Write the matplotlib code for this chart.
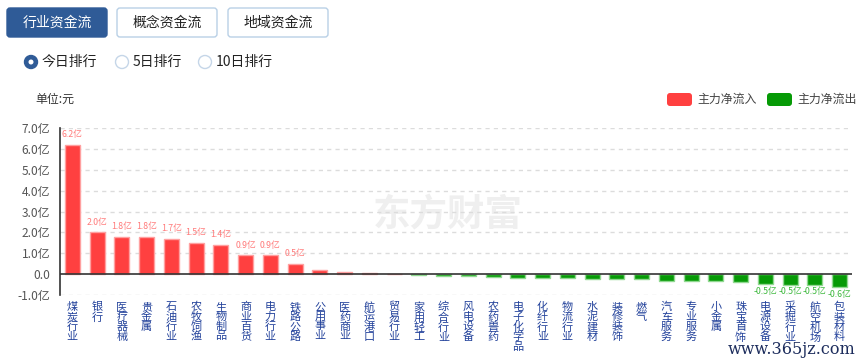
import matplotlib
matplotlib.use("Agg")
import matplotlib.pyplot as plt
from matplotlib.patches import FancyBboxPatch, Circle

plt.rcParams["font.family"] = ["Noto Sans CJK SC", "DejaVu Sans"]

# --- data (亿元) ------------------------------------------------------------
industries = [
    "煤炭行业", "银行", "医疗器械", "贵金属", "石油行业", "农牧饲渔", "生物制品",
    "商业百货", "电力行业", "铁路公路", "公用事业", "医药商业", "航运港口",
    "贸易行业", "家用轻工", "综合行业", "风电设备", "农药兽药", "电子化学品",
    "化纤行业", "物流行业", "水泥建材", "装修装饰", "燃气", "汽车服务",
    "专业服务", "小金属", "珠宝首饰", "电源设备", "采掘行业", "航空机场", "包装材料",
]
net_flow = [
    6.2, 2.0, 1.8, 1.8, 1.7, 1.5, 1.4, 0.9, 0.9, 0.5, 0.22, 0.11, 0.04,
    0.01, -0.04, -0.09, -0.1, -0.16, -0.17, -0.17, -0.17, -0.22, -0.25,
    -0.25, -0.32, -0.33, -0.33, -0.4, -0.49, -0.5, -0.5, -0.64,
]
flow_labels = ["6.2亿", "2.0亿", "1.8亿", "1.8亿", "1.7亿", "1.5亿", "1.4亿",
               "0.9亿", "0.9亿", "0.5亿"] + [""] * 18 + ["-0.5亿", "-0.5亿",
               "-0.5亿", "-0.6亿"]
y_ticks = [-1, 0, 1, 2, 3, 4, 5, 6, 7]
y_tick_labels = ["-1.0亿", "0.0", "1.0亿", "2.0亿", "3.0亿", "4.0亿", "5.0亿",
                 "6.0亿", "7.0亿"]
tabs = ["行业资金流", "概念资金流", "地域资金流"]
ranges = ["今日排行", "5日排行", "10日排行"]
legend_names = ["主力净流入", "主力净流出"]

RED, RED_EDGE, RED_TXT = "#ff4040", "#ffa0a0", "#ff7a7a"
GREEN, GREEN_EDGE, GREEN_TXT = "#069a06", "#90d890", "#3cb83c"
W, H = 862, 364

fig = plt.figure(figsize=(W / 100, H / 100), dpi=100)

# overlay in pixel coordinates for the page chrome
bg = fig.add_axes([0, 0, 1, 1])
bg.set_xlim(0, W)
bg.set_ylim(H, 0)
bg.axis("off")

tab_x = [7, 117, 228]
for i, (name, x0) in enumerate(zip(tabs, tab_x)):
    active = i == 0
    bg.add_patch(FancyBboxPatch(
        (x0, 8), 100, 29, boxstyle="round,pad=0,rounding_size=3",
        fc="#2f5b97" if active else "white",
        ec="#2f5b97" if active else "#b9d0e6", lw=1))
    bg.text(x0 + 50, 23, name, ha="center", va="center", fontsize=10,
            color="white" if active else "#222222")

radio_x = [31, 122, 205]
for i, (name, cx) in enumerate(zip(ranges, radio_x)):
    if i == 0:
        bg.add_patch(Circle((cx, 62), 6.5, fc="#2f5b97", ec="#2f5b97"))
        bg.add_patch(Circle((cx, 62), 2.5, fc="white", ec="none"))
    else:
        bg.add_patch(Circle((cx, 62), 6.5, fc="white", ec="#c5d6e8", lw=1))
    bg.text(cx + 11, 62, name, ha="left", va="center", fontsize=10,
            color="#222222")

bg.text(35, 99, "单位:元", ha="left", va="center", fontsize=8.6,
        color="#333333")

for name, x0, col in zip(legend_names, [667, 767], [RED, GREEN]):
    bg.add_patch(FancyBboxPatch(
        (x0, 93), 25, 13, boxstyle="round,pad=0,rounding_size=3",
        fc=col, ec="none"))
    bg.text(x0 + 30, 99.5, name, ha="left", va="center", fontsize=8.6,
            color="#444444")

# faint brand watermark
bg.text(448, 215, "东方财富", ha="center", va="center", fontsize=27,
        fontweight="bold", color="#efefef")

# --- chart -------------------------------------------------------------------
ax = fig.add_axes([60 / W, 1 - 295 / H, 792 / W, 167 / H])
ax.patch.set_alpha(0)
ax.set_xlim(-0.5, len(industries) - 0.5)
ax.set_ylim(-1, 7)

xs = range(len(industries))
colors = [RED if v >= 0 else GREEN for v in net_flow]
edges = [RED_EDGE if v >= 0 else GREEN_EDGE for v in net_flow]
ax.bar(xs, net_flow, width=0.6, color=colors, edgecolor=edges, linewidth=1,
       zorder=3)

for x, v, lab in zip(xs, net_flow, flow_labels):
    if not lab:
        continue
    if v >= 0:
        ax.annotate(lab, (x, v), xytext=(0, 4), textcoords="offset points",
                    ha="center", va="bottom", fontsize=6.3, color=RED_TXT)
    else:
        ax.annotate(lab, (x, v), xytext=(0, -2), textcoords="offset points",
                    ha="center", va="top", fontsize=6.3, color=GREEN_TXT)

for t in y_ticks:
    if t != 0:
        ax.axhline(t, color="#dcdcdc", lw=1, ls=(0, (3, 3)), zorder=1)
ax.axhline(0, color="#333333", lw=1.2, zorder=4)

for side in ["top", "right", "bottom"]:
    ax.spines[side].set_visible(False)
ax.spines["left"].set_color("#333333")
ax.spines["left"].set_linewidth(1.2)

ax.set_yticks(y_ticks)
ax.set_yticklabels(y_tick_labels, fontsize=8.6, color="#555555")
ax.tick_params(axis="y", length=0, pad=7)

ax.set_xticks(list(xs))
ax.set_xticklabels(["\n".join(n) for n in industries], fontsize=8,
                   color="#23429b", linespacing=0.97, va="top")
ax.tick_params(axis="x", length=0, pad=5)

# site watermark in the bottom-right corner
bg.text(855, 349, "www.365jz.com", ha="right", va="center", fontsize=11.5,
        family="DejaVu Serif", color="#1c2c5c", zorder=10)

fig.savefig("out.png", dpi=100)
